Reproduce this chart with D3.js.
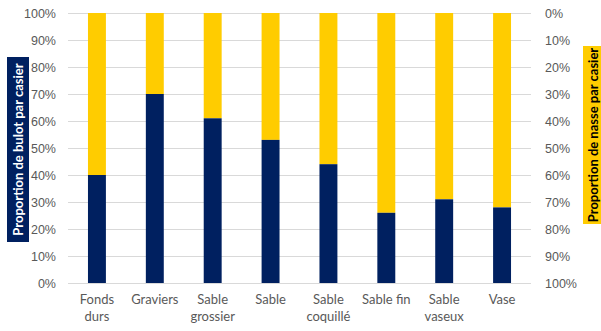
<!DOCTYPE html>
<html><head><meta charset="utf-8">
<script src="https://cdn.jsdelivr.net/npm/d3@7"></script>
<style>body{margin:0;background:#fff;}svg{display:block;font-family:Lato,"Open Sans",sans-serif;}</style>
</head><body><svg id="c" width="601" height="331"></svg>
<script>
const categories = [["Fonds","durs"],["Graviers"],["Sable","grossier"],["Sable"],["Sable","coquillé"],["Sable fin"],["Sable","vaseux"],["Vase"]];
const bulot = [40,70,61,53,44,26,31,28];
const ticks = [0,10,20,30,40,50,60,70,80,90,100];
const leftTitle = "Proportion de bulot par casier";
const rightTitle = "Proportion de nasse par casier";

const svg = d3.select("#c");
const x0 = 68, x1 = 531, yTop = 13, yBot = 283;
const x = d3.scaleBand().domain(d3.range(categories.length)).range([x0,x1]).paddingInner(0.69).paddingOuter(0.345);
const y = d3.scaleLinear().domain([0,100]).range([yBot,yTop]);
const yR = d3.scaleLinear().domain([100,0]).range([yBot,yTop]);

// grid
svg.append("g").selectAll("line").data(ticks).join("line")
  .attr("x1",x0).attr("x2",x1).attr("y1",d=>y(d)+0.5).attr("y2",d=>y(d)+0.5)
  .attr("stroke","#d9d9d9").attr("stroke-width",1);

// bars
const g = svg.append("g");
g.selectAll("rect.n").data(bulot).join("rect").attr("class","n")
  .attr("x",(d,i)=>x(i)).attr("width",x.bandwidth())
  .attr("y",y(100)).attr("height",d=>y(d)-y(100)).attr("fill","#FFCC00");
g.selectAll("rect.b").data(bulot).join("rect").attr("class","b")
  .attr("x",(d,i)=>x(i)).attr("width",x.bandwidth())
  .attr("y",d=>y(d)).attr("height",d=>y(0)-y(d)).attr("fill","#002060");

// left axis
const la = svg.append("g").attr("transform",`translate(${x0},0)`)
  .call(d3.axisLeft(y).tickValues(ticks).tickFormat(d=>d+"%").tickSize(0).tickPadding(12));
la.select(".domain").remove();
la.selectAll("text").attr("fill","#595959").attr("font-size","12.5px");

// right axis
const ra = svg.append("g").attr("transform",`translate(${x1},0)`)
  .call(d3.axisRight(yR).tickValues(ticks).tickFormat(d=>d+"%").tickSize(0).tickPadding(14));
ra.select(".domain").remove();
ra.selectAll("text").attr("fill","#595959").attr("font-size","12.5px");

// x labels
const xl = svg.append("g");
categories.forEach((lines,i)=>{
  const t = xl.append("text").attr("x",x(i)+x.bandwidth()/2).attr("y",304)
    .attr("text-anchor","middle").attr("fill","#595959").attr("font-size","13px");
  lines.forEach((l,j)=>t.append("tspan").attr("x",x(i)+x.bandwidth()/2).attr("dy",j?17:0).text(l));
});

// left title
svg.append("rect").attr("x",7).attr("y",57).attr("width",22).attr("height",185).attr("fill","#002060");
svg.append("text").attr("transform","translate(23,149.5) rotate(-90)").attr("text-anchor","middle")
  .attr("fill","#fff").attr("font-weight","bold").attr("font-size","13px").text(leftTitle);
// right title
svg.append("rect").attr("x",583).attr("y",46).attr("width",20).attr("height",178).attr("fill","#FFCC00");
svg.append("text").attr("transform","translate(597.5,135) rotate(-90)").attr("text-anchor","middle")
  .attr("fill","#000").attr("font-weight","bold").attr("font-size","13px").text(rightTitle);
</script></body></html>
